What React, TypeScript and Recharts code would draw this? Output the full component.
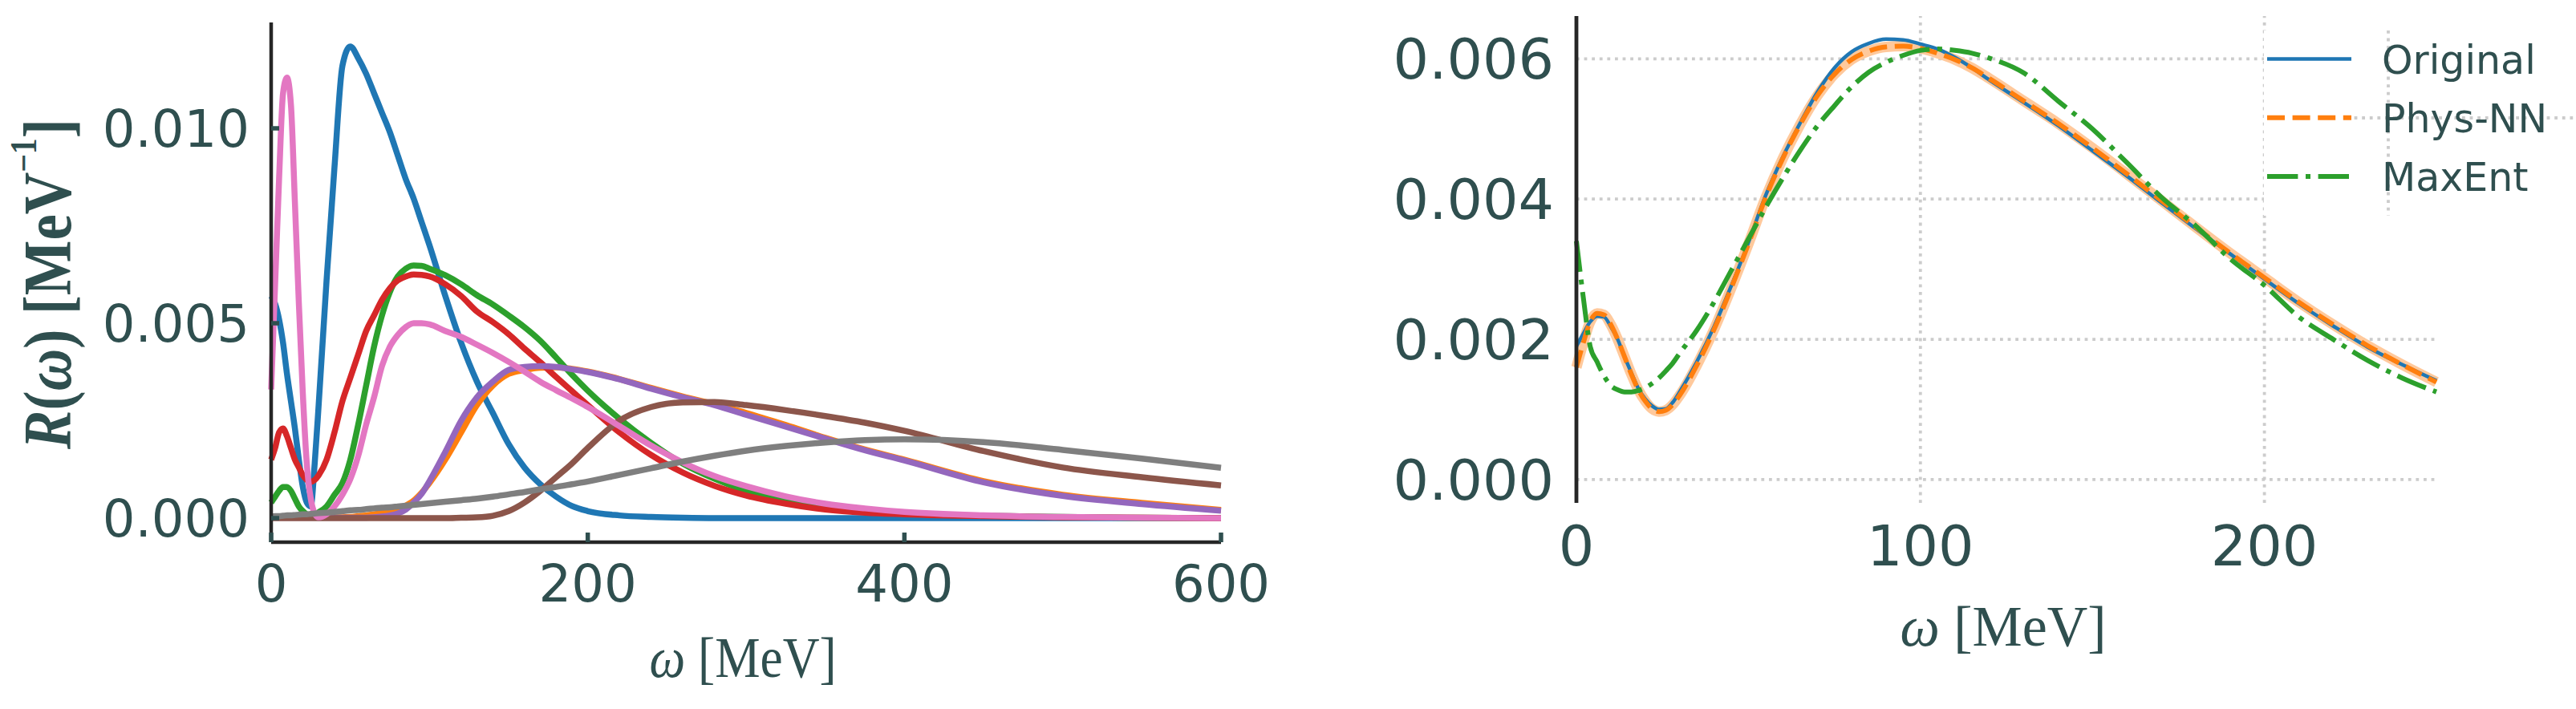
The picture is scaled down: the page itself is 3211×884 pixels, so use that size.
import { Legend, Line, LineChart, ReferenceLine, XAxis, YAxis } from 'recharts';

const INK = '#2f4f4f';
const SPINE = '#262626';
const GRID = '#cccccc';
const SANS = '"DejaVu Sans", sans-serif';
const SERIF = '"Liberation Serif", "DejaVu Serif", serif';
const TAB = ['#1f77b4', '#ff7f0e', '#2ca02c', '#d62728', '#9467bd', '#8c564b', '#e377c2', '#7f7f7f'];

// left panel: omega grid (MeV) and the eight response functions R(omega) [1/MeV]
const leftOmega = [0, 2.5, 5, 7.5, 10, 12.5, 15, 17.5, 20, 22.5, 25, 27.5, 30, 35, 40, 45, 50, 55, 60, 65, 70, 75, 80, 85, 90, 95, 100, 110, 120, 130, 140, 150, 160, 170, 180, 190, 200, 220, 240, 260, 280, 300, 325, 350, 375, 400, 450, 500, 550, 600];
const leftBlue = [0.0057, 0.0055, 0.0051, 0.0045, 0.0037, 0.003, 0.0023, 0.0015, 0.0008, 0.0004, 0.0003, 0.0014, 0.0029, 0.0061, 0.009, 0.0116, 0.0121, 0.0118, 0.0114, 0.0109, 0.0104, 0.0099, 0.0093, 0.0087, 0.0082, 0.0076, 0.007, 0.0057, 0.0045, 0.0035, 0.0027, 0.0019, 0.0013, 0.00087, 0.00055, 0.00031, 0.00018, 0.00007, 0.00003, 0.00001, 0, 0, 0, 0, 0, 0, 0, 0, 0, 0];
const leftOrange = [0.00002, 0.00002, 0.00002, 0.00002, 0.00002, 0.00002, 0.00002, 0.00002, 0.00002, 0.00002, 0.00002, 0.00002, 0.00002, 0.00002, 0.00002, 0.00002, 0.00003, 0.00005, 0.00007, 0.0001, 0.00013, 0.00017, 0.00022, 0.00032, 0.00045, 0.00065, 0.0009, 0.0015, 0.0022, 0.0029, 0.0034, 0.0037, 0.0038, 0.00386, 0.00387, 0.00383, 0.00376, 0.00357, 0.00334, 0.00312, 0.00292, 0.0027, 0.00239, 0.00206, 0.00176, 0.0015, 0.00095, 0.0006, 0.00039, 0.00021];
const leftGreen = [0.0004, 0.00055, 0.0007, 0.0008, 0.0008, 0.0007, 0.0005, 0.0003, 0.00018, 0.0001, 0.00008, 0.0001, 0.00015, 0.0003, 0.0006, 0.0009, 0.0015, 0.0024, 0.0034, 0.0044, 0.0052, 0.0058, 0.0062, 0.0064, 0.00648, 0.00647, 0.0064, 0.00623, 0.006, 0.00572, 0.00548, 0.0052, 0.0049, 0.00455, 0.00412, 0.00368, 0.00327, 0.00255, 0.00193, 0.0014, 0.00101, 0.0007, 0.00042, 0.00025, 0.00017, 0.00012, 0.00006, 0.00003, 0.00001, 0];
const leftRed = [0.0015, 0.0018, 0.0022, 0.0023, 0.0021, 0.0018, 0.0015, 0.0013, 0.0011, 0.00098, 0.00093, 0.00098, 0.0011, 0.0015, 0.0022, 0.003, 0.0036, 0.0042, 0.0048, 0.0052, 0.0056, 0.0059, 0.0061, 0.0062, 0.00625, 0.00624, 0.0062, 0.006, 0.0057, 0.0053, 0.00503, 0.00472, 0.00435, 0.004, 0.00362, 0.00326, 0.0029, 0.0022, 0.00162, 0.00117, 0.00083, 0.00058, 0.00037, 0.00022, 0.00014, 0.0001, 0.00005, 0.00002, 0.00001, 0];
const leftPurple = [0.00001, 0.00001, 0.00001, 0.00001, 0.00001, 0.00001, 0.00001, 0.00001, 0.00001, 0.00001, 0.00001, 0.00001, 0.00001, 0.00001, 0.00001, 0.00001, 0.00001, 0.00001, 0.00001, 0.00002, 0.00004, 0.00007, 0.00012, 0.00022, 0.0004, 0.00062, 0.00095, 0.0017, 0.0025, 0.0031, 0.0035, 0.0038, 0.00388, 0.0039, 0.00388, 0.00382, 0.00375, 0.00356, 0.00332, 0.0031, 0.0029, 0.00265, 0.00235, 0.00204, 0.00174, 0.00148, 0.00092, 0.00057, 0.00036, 0.00019];
const leftBrown = [0, 0, 0, 0, 0, 0, 0, 0, 0, 0, 0, 0, 0, 0, 0, 0, 0, 0, 0, 0, 0, 0, 0, 0, 0, 0, 0, 0, 0.00001, 0.00002, 0.00006, 0.00018, 0.0004, 0.0007, 0.00105, 0.0014, 0.0018, 0.0025, 0.00285, 0.00297, 0.00298, 0.0029, 0.00277, 0.00262, 0.00245, 0.00224, 0.00172, 0.0013, 0.00105, 0.00084];
const leftPink = [0.0033, 0.006, 0.0087, 0.0109, 0.0113, 0.0106, 0.0081, 0.0055, 0.0032, 0.0014, 0.0005, 0.00012, 0.00002, 0.0001, 0.0003, 0.0006, 0.001, 0.0016, 0.0024, 0.0031, 0.0039, 0.0044, 0.0047, 0.0049, 0.005, 0.005, 0.00497, 0.0048, 0.00465, 0.00445, 0.00424, 0.00401, 0.00376, 0.0035, 0.00328, 0.00307, 0.00285, 0.00236, 0.00186, 0.00143, 0.00108, 0.00082, 0.00056, 0.00037, 0.00025, 0.00016, 0.00007, 0.00003, 0.00001, 0];
const leftGray = [0.00004, 0.00005, 0.00005, 0.00006, 0.00007, 0.00007, 0.00008, 0.00009, 0.0001, 0.0001, 0.00011, 0.00012, 0.00013, 0.00014, 0.00016, 0.00018, 0.0002, 0.00021, 0.00023, 0.00025, 0.00027, 0.00028, 0.0003, 0.00032, 0.00034, 0.00036, 0.00038, 0.00042, 0.00046, 0.0005, 0.00055, 0.00061, 0.00067, 0.00074, 0.0008, 0.00087, 0.00094, 0.00111, 0.00128, 0.00145, 0.0016, 0.00173, 0.00185, 0.00194, 0.002, 0.00202, 0.00195, 0.00175, 0.00153, 0.00129];

const leftXTicks = [0, 200, 400, 600];
const leftYTicks = [0, 0.005, 0.01];

// right panel: reconstruction comparison
const rightOmega = [0, 2, 4, 6, 8, 10, 12, 14, 16, 18, 20, 22, 24, 26, 28, 30, 35, 40, 45, 50, 55, 60, 65, 70, 75, 80, 85, 90, 95, 100, 105, 110, 115, 120, 130, 140, 150, 160, 170, 180, 190, 200, 210, 220, 230, 240, 250];
const original = [0.0019, 0.00208, 0.00225, 0.00233, 0.00232, 0.00218, 0.002, 0.00175, 0.00152, 0.0013, 0.00115, 0.00105, 0.001, 0.00101, 0.0011, 0.00125, 0.00168, 0.00218, 0.00276, 0.00338, 0.00405, 0.0046, 0.00508, 0.00552, 0.00587, 0.0061, 0.00622, 0.00628, 0.00627, 0.00621, 0.00614, 0.00602, 0.00587, 0.0057, 0.00538, 0.00505, 0.00469, 0.00433, 0.00395, 0.00358, 0.00322, 0.00286, 0.00251, 0.00219, 0.00189, 0.00164, 0.00141];
const physNN = [0.0016, 0.00195, 0.00225, 0.00237, 0.00235, 0.00221, 0.002, 0.00175, 0.0015, 0.00128, 0.00112, 0.00101, 0.00097, 0.00099, 0.00107, 0.0012, 0.00163, 0.00214, 0.00273, 0.00336, 0.00402, 0.00458, 0.00506, 0.00547, 0.00578, 0.00599, 0.00611, 0.00617, 0.00618, 0.00615, 0.00608, 0.00599, 0.00587, 0.00572, 0.0054, 0.00508, 0.00473, 0.00436, 0.00398, 0.0036, 0.00323, 0.00288, 0.00253, 0.00221, 0.00191, 0.00164, 0.00139];
const maxEnt = [0.0034, 0.0026, 0.0019, 0.00168, 0.00148, 0.00134, 0.00128, 0.00125, 0.00125, 0.00127, 0.00131, 0.00137, 0.00145, 0.00155, 0.00166, 0.0018, 0.00213, 0.00253, 0.00298, 0.00343, 0.00388, 0.0043, 0.00469, 0.00504, 0.00533, 0.0056, 0.00581, 0.00595, 0.00605, 0.00612, 0.00614, 0.00612, 0.00608, 0.00601, 0.0058, 0.0054, 0.005, 0.00452, 0.00403, 0.00362, 0.00315, 0.00277, 0.00232, 0.002, 0.0017, 0.00145, 0.00125];

const rightXTicks = [0, 100, 200];
const rightYTicks = [0, 0.002, 0.004, 0.006];
const legendNames = ['Original', 'Phys-NN', 'MaxEnt'];

const leftSeries = [leftBlue, leftOrange, leftGreen, leftRed, leftPurple, leftBrown, leftPink, leftGray];
const leftData = leftOmega.map((w, i) => {
  const row: Record<string, number> = { w };
  leftSeries.forEach((s, k) => {
    row[`r${k}`] = s[i];
  });
  return row;
});
const rightData = rightOmega.map((w, i) => ({ w, original: original[i], physNN: physNN[i], maxEnt: maxEnt[i] }));

const rightStyles = [
  { key: 'original', color: TAB[0], width: 4.5, dash: undefined as string | undefined },
  { key: 'physNN', color: TAB[1], width: 6, dash: '22 9.6' },
  { key: 'maxEnt', color: TAB[2], width: 6, dash: '38.4 9.6 6 9.6' },
];

type TickProps = { x?: number; y?: number; payload?: { value: number } };

function LeftYTick({ x = 0, y = 0, payload }: TickProps) {
  return (
    <g>
      <line x1={x + 27} x2={x + 37} y1={y} y2={y} stroke={INK} strokeWidth={5.5} />
      <text x={x} y={y + 23} textAnchor="end" fontSize={64} fontFamily={SANS} fill={INK}>
        {(payload?.value ?? 0).toFixed(3)}
      </text>
    </g>
  );
}

function LeftXTick({ x = 0, y = 0, payload }: TickProps) {
  return (
    <g>
      <line x1={x} x2={x} y1={y - 27} y2={y - 39} stroke={INK} strokeWidth={5.5} />
      <text x={x} y={y + 47} textAnchor="middle" fontSize={64} fontFamily={SANS} fill={INK}>
        {payload?.value}
      </text>
    </g>
  );
}

function RightYTick({ x = 0, y = 0, payload }: TickProps) {
  return (
    <text x={x} y={y + 25} textAnchor="end" fontSize={70} fontFamily={SANS} fill={INK}>
      {(payload?.value ?? 0).toFixed(3)}
    </text>
  );
}

function RightXTick({ x = 0, y = 0, payload }: TickProps) {
  return (
    <text x={x} y={y + 51} textAnchor="middle" fontSize={70} fontFamily={SANS} fill={INK}>
      {payload?.value}
    </text>
  );
}

function omegaTitle(cx: number, baseline: number, len: number) {
  return (
    <text x={cx} y={baseline} textAnchor="middle" fontFamily={SERIF} fontSize={72} fill={INK} textLength={len} lengthAdjust="spacingAndGlyphs">
      <tspan fontStyle="italic">ω</tspan>
      <tspan>{'\u00a0[MeV]'}</tspan>
    </text>
  );
}

function RightLegend() {
  return (
    <svg width={389} height={231} style={{ display: 'block' }}>
      <rect width={389} height={231} fill="#ffffff" />
      <line x1={155} x2={155} y1={0} y2={231} stroke={GRID} strokeWidth={3.8} strokeDasharray="3.8 5.8" />
      <line x1={103} x2={389} y1={109} y2={109} stroke={GRID} strokeWidth={3.8} strokeDasharray="3.8 5.8" />
      {rightStyles.map((s, i) => {
        const y = 35.5 + i * 73.3;
        return (
          <g key={s.key}>
            <line x1={4} x2={109} y1={y} y2={y} stroke={s.color} strokeWidth={s.width} strokeDasharray={s.dash} />
            <text x={147} y={y + 18} fontSize={49} fontFamily={SANS} fill={INK}>
              {legendNames[i]}
            </text>
          </g>
        );
      })}
    </svg>
  );
}

export default function App() {
  return (
    <div style={{ position: 'relative', width: 3211, height: 884, background: '#fff', overflow: 'hidden' }}>
      <style>{'body{margin:0}'}</style>
      <div style={{ position: 'absolute', left: 0, top: 0 }}>
        <LineChart width={1600} height={884} data={leftData} margin={{ top: 28, right: 78, left: 0, bottom: 0 }}>
          <XAxis
            dataKey="w"
            type="number"
            domain={[0, 600]}
            ticks={leftXTicks}
            interval={0}
            height={208}
            tickSize={0}
            tickMargin={27}
            tickLine={false}
            axisLine={{ stroke: SPINE, strokeWidth: 4.5 }}
            tick={(p: TickProps) => <LeftXTick {...p} />}
            label={{
              content: (p: { viewBox?: { x: number; y: number; width: number } }) => {
                const vb = p.viewBox ?? { x: 338, y: 676, width: 1184 };
                return omegaTitle(vb.x + vb.width / 2 - 4, vb.y + 168, 233);
              },
            }}
          />
          <YAxis
            type="number"
            domain={[-0.000617, 0.012716]}
            ticks={leftYTicks}
            interval={0}
            width={338}
            tickSize={0}
            tickMargin={27}
            tickLine={false}
            axisLine={{ stroke: SPINE, strokeWidth: 4.5 }}
            tick={(p: TickProps) => <LeftYTick {...p} />}
            label={{
              content: (p: { viewBox?: { x: number; y: number; height: number } }) => {
                const vb = p.viewBox ?? { x: 0, y: 28, height: 648 };
                const cx = vb.x + 88;
                const cy = vb.y + vb.height / 2 + 2;
                return (
                  <text
                    x={cx}
                    y={cy}
                    transform={`rotate(-90 ${cx} ${cy})`}
                    textAnchor="middle"
                    fontFamily={SERIF}
                    fontWeight="bold"
                    fontSize={84}
                    fill={INK}
                    textLength={412}
                    lengthAdjust="spacingAndGlyphs"
                  >
                    <tspan fontStyle="italic">R</tspan>
                    <tspan>(</tspan>
                    <tspan fontStyle="italic">ω</tspan>
                    <tspan>{')\u00a0[MeV'}</tspan>
                    <tspan fontSize={46} dy={-43}>
                      −1
                    </tspan>
                    <tspan dy={43}>]</tspan>
                  </text>
                );
              },
            }}
          />
          {leftSeries.map((_, k) => (
            <Line
              key={k}
              dataKey={`r${k}`}
              type="monotone"
              stroke={TAB[k]}
              strokeWidth={7.5}
              dot={false}
              activeDot={false}
              isAnimationActive={false}
            />
          ))}
        </LineChart>
      </div>
      <div style={{ position: 'absolute', left: 1600, top: 0 }}>
        <LineChart width={1611} height={884} data={rightData} margin={{ top: 20, right: 174, left: 0, bottom: 0 }}>
          <XAxis
            dataKey="w"
            type="number"
            domain={[0, 250]}
            ticks={rightXTicks}
            interval={0}
            height={257}
            tickSize={0}
            tickMargin={27}
            tickLine={false}
            axisLine={false}
            tick={(p: TickProps) => <RightXTick {...p} />}
            label={{
              content: (p: { viewBox?: { x: number; y: number; width: number } }) => {
                const vb = p.viewBox ?? { x: 365, y: 627, width: 1072 };
                return omegaTitle(vb.x + vb.width / 2 - 4, vb.y + 178, 257);
              },
            }}
          />
          <YAxis
            type="number"
            domain={[-0.000332, 0.00661]}
            ticks={rightYTicks}
            interval={0}
            width={365}
            tickSize={0}
            tickMargin={28}
            tickLine={false}
            axisLine={{ stroke: SPINE, strokeWidth: 4.8 }}
            tick={(p: TickProps) => <RightYTick {...p} />}
          />
          {rightYTicks.map((t) => (
            <ReferenceLine key={`h${t}`} y={t} stroke={GRID} strokeWidth={3.8} strokeDasharray="3.8 5.8" />
          ))}
          {rightXTicks
            .filter((t) => t > 0)
            .map((t) => (
              <ReferenceLine key={`v${t}`} x={t} stroke={GRID} strokeWidth={3.8} strokeDasharray="3.8 5.8" />
            ))}
          <Legend
            layout="vertical"
            align="center"
            verticalAlign="middle"
            wrapperStyle={{ left: 1222, top: 38, width: 389, height: 231 }}
            content={() => <RightLegend />}
          />
          <Line
            dataKey="physNN"
            type="monotone"
            stroke="#ffc99c"
            strokeWidth={13}
            dot={false}
            activeDot={false}
            legendType="none"
            isAnimationActive={false}
          />
          {rightStyles.map((s, i) => (
            <Line
              key={s.key}
              dataKey={s.key}
              name={legendNames[i]}
              type="monotone"
              stroke={s.color}
              strokeWidth={s.width}
              strokeDasharray={s.dash}
              dot={false}
              activeDot={false}
              isAnimationActive={false}
            />
          ))}
        </LineChart>
      </div>
    </div>
  );
}
